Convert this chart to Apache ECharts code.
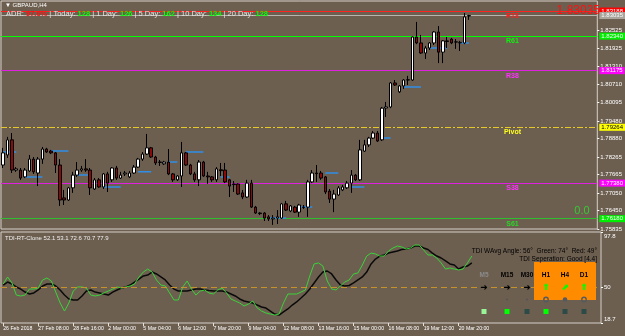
<!DOCTYPE html>
<html>
<head>
<meta charset="utf-8">
<script src="https://cdn.jsdelivr.net/npm/echarts@6.0.0/dist/echarts.min.js"></script>
<style>
  html, body { margin: 0; padding: 0; background: #6d5f50; }
  #chart { width: 625px; height: 336px; }
</style>
</head>
<body>
<div id="chart"></div>
<script>
// GBPAUD H4 candles
const opens = [
  1.7799, 1.7833, 1.7884, 1.7782, 1.7782, 1.7759, 1.7779, 1.7819, 1.7772, 1.7819,
  1.7853, 1.7846, 1.7840, 1.7799, 1.7688, 1.7681, 1.7722, 1.7765, 1.7782, 1.7786,
  1.7782, 1.7718, 1.7749, 1.7725, 1.7769, 1.7749, 1.7789, 1.7755, 1.7769, 1.7759,
  1.7772, 1.7792, 1.7819, 1.7836, 1.7857, 1.7826, 1.7809, 1.7803, 1.7809, 1.7769,
  1.7749, 1.7762, 1.7840, 1.7799, 1.7769, 1.7749, 1.7809, 1.7762, 1.7759, 1.7749,
  1.7783, 1.7782, 1.7749, 1.7735, 1.7735, 1.7705, 1.7691, 1.7738, 1.7657, 1.7637,
  1.7637, 1.7624, 1.7617, 1.7620, 1.7620, 1.7668, 1.7644, 1.7657, 1.7640, 1.7657,
  1.7657, 1.7742, 1.7772, 1.7772, 1.7759, 1.7711, 1.7684, 1.7698, 1.7715, 1.7722,
  1.7738, 1.7765, 1.7749, 1.7846, 1.7867, 1.7890, 1.7907, 1.7884, 1.7991, 1.7995,
  1.8076, 1.8046, 1.8066, 1.8086, 1.8086, 1.8231, 1.8211, 1.8177, 1.8194, 1.8211,
  1.8248, 1.8180, 1.8218, 1.8224, 1.8214, 1.8211, 1.8211, 1.8302
];
const closes = [
  1.7840, 1.7884, 1.7782, 1.7786, 1.7755, 1.7782, 1.7819, 1.7776, 1.7819, 1.7853,
  1.7843, 1.7840, 1.7799, 1.7681, 1.7681, 1.7722, 1.7765, 1.7782, 1.7786, 1.7782,
  1.7722, 1.7749, 1.7725, 1.7769, 1.7738, 1.7789, 1.7755, 1.7765, 1.7772, 1.7772,
  1.7792, 1.7819, 1.7836, 1.7857, 1.7826, 1.7806, 1.7808, 1.7809, 1.7769, 1.7749,
  1.7762, 1.7840, 1.7799, 1.7769, 1.7749, 1.7809, 1.7762, 1.7759, 1.7749, 1.7786,
  1.7780, 1.7742, 1.7728, 1.7733, 1.7701, 1.7691, 1.7738, 1.7657, 1.7637, 1.7635,
  1.7620, 1.7617, 1.7620, 1.7624, 1.7668, 1.7647, 1.7661, 1.7640, 1.7664, 1.7656,
  1.7742, 1.7772, 1.7770, 1.7755, 1.7708, 1.7684, 1.7701, 1.7722, 1.7725, 1.7738,
  1.7765, 1.7749, 1.7850, 1.7867, 1.7890, 1.7907, 1.7880, 1.7991, 1.7995, 1.8076,
  1.8069, 1.8066, 1.8086, 1.8087, 1.8231, 1.8211, 1.8177, 1.8194, 1.8211, 1.8248,
  1.8180, 1.8218, 1.8216, 1.8211, 1.8215, 1.8213, 1.8299, 1.83035
];
const lows = [
  1.7789, 1.7823, 1.7772, 1.7776, 1.7749, 1.7755, 1.7776, 1.7769, 1.7728, 1.7803,
  1.7840, 1.7836, 1.7772, 1.7661, 1.7664, 1.7678, 1.7705, 1.7759, 1.7776, 1.7776,
  1.7698, 1.7715, 1.7722, 1.7718, 1.7708, 1.7742, 1.7749, 1.7752, 1.7762, 1.7755,
  1.7769, 1.7789, 1.7813, 1.7833, 1.7823, 1.7799, 1.7796, 1.7799, 1.7765, 1.7742,
  1.7745, 1.7725, 1.7796, 1.7765, 1.7742, 1.7728, 1.7759, 1.7735, 1.7742, 1.7742,
  1.7762, 1.7738, 1.7691, 1.7708, 1.7698, 1.7684, 1.7688, 1.7654, 1.7634, 1.7630,
  1.7610, 1.7610, 1.7597, 1.7600, 1.7617, 1.7644, 1.7640, 1.7637, 1.7624, 1.7651,
  1.7624, 1.7738, 1.7742, 1.7749, 1.7701, 1.7671, 1.7640, 1.7695, 1.7711, 1.7718,
  1.7705, 1.7745, 1.7745, 1.7843, 1.7860, 1.7887, 1.7877, 1.7880, 1.7961, 1.7991,
  1.8066, 1.8042, 1.8056, 1.8069, 1.8083, 1.8207, 1.8174, 1.8157, 1.8187, 1.8204,
  1.8143, 1.8143, 1.8194, 1.8207, 1.8191, 1.8184, 1.8207, 1.8289
];
const highs = [
  1.7857, 1.7894, 1.7907, 1.7792, 1.7789, 1.7789, 1.7833, 1.7826, 1.7826, 1.7860,
  1.7857, 1.7850, 1.7843, 1.7819, 1.7715, 1.7725, 1.7776, 1.7809, 1.7796, 1.7819,
  1.7789, 1.7755, 1.7755, 1.7772, 1.7776, 1.7792, 1.7796, 1.7776, 1.7779, 1.7779,
  1.7799, 1.7823, 1.7843, 1.7904, 1.7860, 1.7830, 1.7816, 1.7813, 1.7853, 1.7772,
  1.7765, 1.7877, 1.7843, 1.7803, 1.7776, 1.7816, 1.7813, 1.7776, 1.7762, 1.7792,
  1.7806, 1.7806, 1.7752, 1.7745, 1.7738, 1.7715, 1.7749, 1.7749, 1.7661, 1.7640,
  1.7640, 1.7630, 1.7630, 1.7647, 1.7671, 1.7678, 1.7664, 1.7661, 1.7668, 1.7664,
  1.7749, 1.7782, 1.7799, 1.7779, 1.7762, 1.7718, 1.7715, 1.7728, 1.7732, 1.7745,
  1.7782, 1.7769, 1.7884, 1.7884, 1.7894, 1.7914, 1.7914, 1.7995, 1.8012, 1.8079,
  1.8086, 1.8069, 1.8089, 1.8100, 1.8234, 1.8282, 1.8238, 1.8201, 1.8214, 1.8251,
  1.8268, 1.8221, 1.8231, 1.8228, 1.8224, 1.8218, 1.8312, 1.8306
];

// TDI lines
const tdiGreen = [
  52.6, 58.7, 53.5, 43.0, 42.2, 43.0, 48.2, 48.2, 49.1, 56.1,
  57.8, 55.2, 45.6, 36.1, 29.1, 36.1, 46.5, 50.0, 50.0, 49.1,
  43.0, 42.2, 43.0, 44.8, 46.5, 48.2, 50.0, 49.1, 50.0, 50.9,
  52.6, 58.7, 63.0, 65.6, 63.0, 56.1, 51.7, 50.9, 44.8, 38.7,
  38.7, 50.0, 55.2, 48.2, 43.0, 46.5, 47.4, 44.8, 43.9, 47.4,
  49.1, 44.8, 39.6, 37.8, 36.1, 33.5, 35.2, 37.8, 31.7, 29.1,
  27.4, 26.5, 25.6, 26.5, 36.1, 43.9, 43.9, 43.9, 45.6, 47.4,
  59.6, 70.0, 70.9, 68.2, 55.2, 48.2, 47.4, 50.9, 54.3, 56.1,
  61.3, 62.2, 69.1, 76.9, 79.5, 78.7, 76.9, 76.9, 81.3, 83.9,
  85.6, 84.8, 83.0, 83.9, 86.5, 86.5, 82.2, 77.8, 77.8, 75.2,
  70.9, 65.6, 66.5, 65.6, 64.8, 65.6, 70.9, 76.9
];
const tdiSignal = [
  51.7, 54.3, 52.6, 50.0, 48.2, 45.6, 43.9, 44.8, 47.4, 50.9,
  52.6, 52.6, 50.9, 47.4, 43.0, 39.6, 38.7, 38.7, 42.2, 46.5,
  47.4, 45.6, 44.8, 43.9, 43.0, 45.6, 47.4, 49.1, 50.0, 51.7,
  54.3, 56.9, 59.6, 60.4, 63.0, 61.3, 58.7, 56.1, 51.7, 48.2,
  46.5, 46.5, 46.5, 47.4, 48.2, 48.2, 47.4, 46.9, 46.5, 46.5,
  46.5, 45.6, 43.9, 42.2, 39.6, 37.8, 37.0, 36.1, 34.3, 32.6,
  31.7, 29.1, 26.5, 25.6, 28.3, 30.9, 34.3, 37.0, 40.4, 43.9,
  48.2, 53.5, 58.7, 63.0, 63.9, 61.3, 56.1, 51.7, 50.9, 51.3,
  53.5, 56.1, 58.7, 63.0, 70.0, 74.3, 76.9, 77.8, 79.5, 80.4,
  81.3, 82.6, 83.0, 83.9, 85.6, 85.6, 83.9, 82.6, 79.5, 76.9,
  75.2, 72.6, 70.0, 69.1, 65.6, 67.4, 68.2, 70.9
];
const tdiMid = 50;

// short blue levels: first bar, last bar, price
const blueStart = [0, 5, 11, 17, 23, 31, 38, 42, 50, 61, 68, 74, 80, 87, 92, 98, 105];
const blueEnd   = [3, 9, 15, 20, 27, 34, 40, 46, 52, 65, 71, 77, 83, 89, 96, 102, 107];
const bluePrice = [1.7843, 1.7759, 1.7846, 1.7765, 1.7725, 1.7776, 1.7809, 1.7843, 1.7759,
                   1.7620, 1.7657, 1.7772, 1.7725, 1.7890, 1.8062, 1.8194, 1.8211];

// pivot levels
const levelNames  = ['R78', 'R61', 'R38', 'Pivot', 'S38', 'S61'];
const levelValues = [1.83188, 1.82340, 1.81175, 1.79264, 1.77380, 1.76180];
const lastPrice = 1.83035;

const priceTicks = [1.82525, 1.81925, 1.81310, 1.80710, 1.80095, 1.79480, 1.78880,
                    1.78265, 1.77665, 1.77050, 1.76450, 1.75835];
const tdiTicks = [97.8, 50, 18.7];
const timeLabels = ['26 Feb 2018', '27 Feb 08:00', '28 Feb 16:00', '2 Mar 00:00', '5 Mar 04:00',
  '6 Mar 12:00', '7 Mar 20:00', '9 Mar 04:00', '12 Mar 08:00', '13 Mar 16:00', '15 Mar 00:00',
  '16 Mar 08:00', '19 Mar 12:00', '20 Mar 20:00'];
const LABEL_STEP = 8;

const tfNames = ['M5', 'M15', 'M30', 'H1', 'H4', 'D1'];
const tfArrows = ['➜', '➜', '➜', '⬆', '⬈', '⬆'];
const tfSquares = ['#98f598', '#00ff00', '#2c4b47', '#00ff00', '#2c4b47', '#2c4b47'];
const tfDots = ['none', 'dot', 'dot', 'ring', 'fill', 'ring'];

// ---- layout / styling ----
const SLOTS = 137;           // chart shift leaves empty space on the right
const LEVEL_LABEL_BAR = 117;
const FONT = '"Liberation Sans", Arial, sans-serif';
const BG = '#6d5f50';
const FRAME = '#d6d0c8';
const levelColors = ['#ff2020', '#00ff00', '#e020e0', '#e6c82a', '#e020e0', '#2fbf2f'];
const levelBoxBg  = ['#ff0000', '#00ee00', '#ff00ff', '#ffff00', '#ff00ff', '#00ee00'];
const levelBoxTxt = ['#ffffff', '#ffffff', '#ffffff', '#000000', '#ffffff', '#ffffff'];
const levelTextColors = ['#ff2020', '#10f010', '#ff30ff', '#ffff20', '#ff30ff', '#28d828'];

const cats = Array.from({ length: SLOTS }, (_, i) => String(i));
const candles = opens.map((o, i) => [o, closes[i], lows[i], highs[i]]);

const blueLine = new Array(SLOTS).fill(null);
blueStart.forEach((s, k) => {
  for (let i = s; i <= blueEnd[k]; i++) blueLine[i] = bluePrice[k];
});

const showTime = idx => idx % LABEL_STEP === 0 && idx / LABEL_STEP < timeLabels.length;

const levelLines = levelValues.map((v, i) => ({
  yAxis: v,
  lineStyle: {
    color: levelColors[i],
    width: 1,
    type: levelNames[i] === 'Pivot' ? [6, 2, 2, 2] : 'solid'
  },
  label: {
    show: true, position: 'end', distance: 2,
    formatter: v.toFixed(5),
    backgroundColor: levelBoxBg[i], color: levelBoxTxt[i],
    fontSize: 6, fontFamily: FONT, padding: [1, 2, 0, 2]
  }
}));
levelLines.push({
  yAxis: lastPrice,
  lineStyle: { color: '#b8b4ae', width: 1, type: 'solid' },
  label: {
    show: true, position: 'end', distance: 2,
    formatter: lastPrice.toFixed(5),
    backgroundColor: '#a9a49c', color: '#ffffff',
    fontSize: 6, fontFamily: FONT, padding: [1, 2, 0, 2]
  }
});

function txt(x, y, text, color, font, align) {
  return {
    type: 'text', x, y, z: 100, silent: true,
    style: {
      text, fill: color, font,
      textAlign: align || 'left', textVerticalAlign: 'middle',
      align: align || 'left', verticalAlign: 'middle'
    }
  };
}

const adrRich = {
  g: { fill: '#e4e4e4', color: '#e4e4e4', fontSize: 7.5, fontFamily: FONT },
  r: { fill: '#ff1010', color: '#ff1010', fontSize: 7.5, fontFamily: FONT, fontWeight: 'bold' },
  n: { fill: '#00ff00', color: '#00ff00', fontSize: 7.5, fontFamily: FONT, fontWeight: 'bold' }
};
const adrText = '{g|ADR:} {r|97.6%} {g|| Today:} {n|128} {g|| 1 Day:} {n|126} {g|| 5 Day:} {n|162}' +
  ' {g|| 10 Day:} {n|134} {g|| 20 Day:} {n|128}';

const tfX = [484, 507, 527, 546, 565, 584];
const graphics = [
  txt(5, 5.5, '▼ GBPAUD,H4', '#ffffff', '6px ' + FONT),
  {
    type: 'text', x: 6, y: 14, z: 100,
    style: { text: adrText, rich: adrRich, textVerticalAlign: 'middle', verticalAlign: 'middle', font: '7.5px ' + FONT }
  },
  txt(600, 10.5, '1.83035', '#ff1010', '12px ' + FONT, 'right'),
  txt(582, 211, '0.0', '#33cc33', '11px ' + FONT, 'center'),
  txt(5, 238, 'TDI-RT-Clone 52.1 53.1 72.6 70.7 77.9', '#f0f0f0', '6px ' + FONT),
  txt(597, 251, 'TDI WAvg Angle: 56°  Green: 74°  Red: 49°', '#000000', '6.5px ' + FONT, 'right'),
  txt(597, 259.5, 'TDI Seperation: Good [4.4]', '#000000', '6.5px ' + FONT, 'right'),
  { type: 'rect', z: 90, shape: { x: 534, y: 262, width: 62, height: 38 }, style: { fill: '#ff8c00' } }
];
tfNames.forEach((n, i) => {
  const x = tfX[i];
  graphics.push(txt(x, 275, n, i === 0 ? '#8a8a8a' : '#000000', 'bold 6.5px ' + FONT, 'center'));
  graphics.push(txt(x, 288, tfArrows[i], i < 3 ? '#000000' : '#00ff00', 'bold 9px "DejaVu Sans"', 'center'));
  if (tfDots[i] === 'dot') {
    graphics.push({ type: 'circle', z: 100, shape: { cx: x, cy: 299.5, r: 1.1 }, style: { fill: '#555555' } });
  } else if (tfDots[i] === 'fill') {
    graphics.push({ type: 'circle', z: 100, shape: { cx: x, cy: 299.5, r: 2.3 }, style: { fill: '#555a60' } });
  } else if (tfDots[i] === 'ring') {
    graphics.push({ type: 'circle', z: 100, shape: { cx: x, cy: 299.5, r: 2.2 },
      style: { fill: 'none', stroke: '#555a60', lineWidth: 1.4 } });
  }
  graphics.push({ type: 'rect', z: 100, shape: { x: x - 2.5, y: 309, width: 5, height: 5 },
    style: { fill: tfSquares[i] } });
});

const chart = echarts.init(document.getElementById('chart'), null, { renderer: 'canvas' });
chart.setOption({
  backgroundColor: BG,
  animation: false,
  textStyle: { fontFamily: FONT },
  grid: [
    { left: 1, top: 1, width: 600, height: 228, show: true, borderColor: FRAME, borderWidth: 1 },
    { left: 1, top: 232, width: 600, height: 91, show: true, borderColor: FRAME, borderWidth: 1 }
  ],
  xAxis: [
    {
      type: 'category', gridIndex: 0, data: cats, boundaryGap: true,
      axisLine: { show: false }, axisTick: { show: false }, axisLabel: { show: false },
      splitLine: { show: false }
    },
    {
      type: 'category', gridIndex: 1, data: cats, boundaryGap: true,
      axisLine: { show: false },
      axisTick: { show: true, alignWithLabel: true, interval: showTime, length: 3,
        lineStyle: { color: '#e6e0d8' } },
      axisLabel: {
        interval: showTime, align: 'left', margin: 3, color: '#ffffff', fontSize: 5.2,
        fontFamily: FONT, formatter: (v, idx) => timeLabels[idx / LABEL_STEP] || ''
      },
      splitLine: { show: false }
    }
  ],
  yAxis: [
    {
      type: 'value', gridIndex: 0, position: 'right', min: 1.75831, max: 1.83526,
      axisLine: { show: false }, splitLine: { show: false },
      axisTick: { show: true, length: 2, customValues: priceTicks, lineStyle: { color: '#ffffff' } },
      axisLabel: { customValues: priceTicks, color: '#ffffff', fontSize: 6, margin: 3,
        fontFamily: FONT, formatter: v => v.toFixed(5) }
    },
    {
      type: 'value', gridIndex: 1, position: 'right', min: 18.7, max: 97.8,
      axisLine: { show: false }, splitLine: { show: false },
      axisTick: { show: true, length: 2, customValues: tdiTicks, lineStyle: { color: '#ffffff' } },
      axisLabel: {
        customValues: tdiTicks, color: '#ffffff', fontSize: 6, margin: 3, fontFamily: FONT,
        formatter: v => (v === 50 ? '50' : v > 50 ? '{t|' + v.toFixed(1) + '}' : '{b|' + v.toFixed(1) + '}'),
        rich: {
          t: { color: '#ffffff', fontSize: 6, fontFamily: FONT, padding: [8, 0, 0, 0] },
          b: { color: '#ffffff', fontSize: 6, fontFamily: FONT, padding: [0, 0, 7, 0] }
        }
      }
    }
  ],
  series: [
    {
      type: 'line', xAxisIndex: 0, yAxisIndex: 0, data: blueLine, connectNulls: false,
      symbol: 'none', lineStyle: { color: '#2f8ee8', width: 1.5 }, z: 3
    },
    {
      type: 'candlestick', xAxisIndex: 0, yAxisIndex: 0, data: candles, barWidth: 3,
      itemStyle: { color: '#ffffff', color0: '#8b0a0a', borderColor: '#000000', borderColor0: '#000000', borderWidth: 1 },
      z: 4,
      markLine: { silent: true, symbol: 'none', precision: 5, data: levelLines, z: 2 }
    },
    {
      type: 'scatter', xAxisIndex: 0, yAxisIndex: 0, symbol: 'rect', symbolSize: 1, silent: true,
      itemStyle: { opacity: 1, color: 'rgba(0,0,0,0)' },
      data: levelValues.map((v, i) => ({
        value: [LEVEL_LABEL_BAR, v],
        label: { color: levelTextColors[i] }
      })),
      label: { show: true, position: 'bottom', distance: 1, fontSize: 7, fontFamily: FONT,
        fontWeight: 'bold', formatter: p => levelNames[p.dataIndex] },
      z: 5
    },
    {
      type: 'line', xAxisIndex: 1, yAxisIndex: 1, data: tdiSignal, symbol: 'none',
      lineStyle: { color: '#0a0a0a', width: 1.5 }, z: 3,
      markLine: { silent: true, symbol: 'none', label: { show: false },
        lineStyle: { color: '#c8922a', width: 1, type: [6, 4] }, data: [{ yAxis: tdiMid }] }
    },
    {
      type: 'line', xAxisIndex: 1, yAxisIndex: 1, data: tdiGreen, symbol: 'none',
      lineStyle: { color: '#3ad23a', width: 1 }, z: 4
    }
  ],
  graphic: graphics
});
</script>
</body>
</html>
